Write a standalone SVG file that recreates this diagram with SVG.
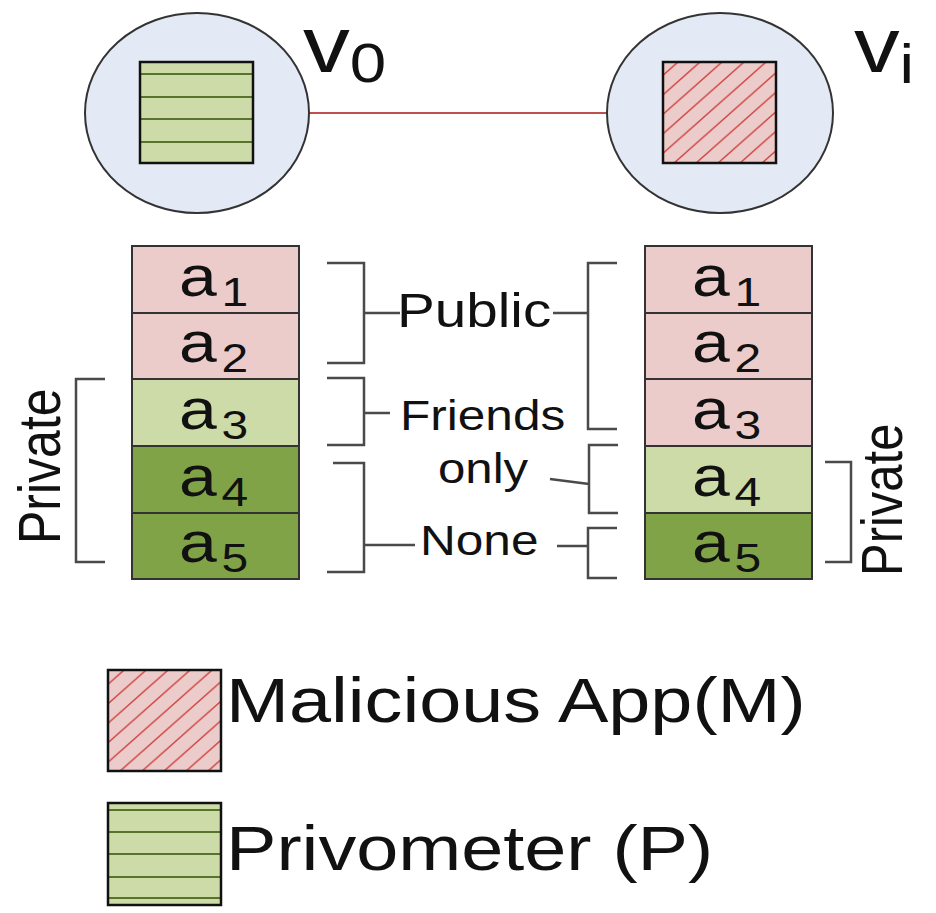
<svg xmlns="http://www.w3.org/2000/svg" width="936" height="913" viewBox="0 0 936 913">
<defs>
<style>
.t{font-family:"Liberation Sans",Arial,sans-serif;fill:#111}
.node{fill:#e4eaf5;stroke:#333;stroke-width:2}
.sq{stroke:#111;stroke-width:2.5}
.gl{stroke:#56752a;stroke-width:2}
.pink{fill:#eccccb;stroke:#333;stroke-width:2}
.lg{fill:#ccdba8;stroke:#333;stroke-width:2}
.dg{fill:#80a348;stroke:#333;stroke-width:2}
.br{fill:none;stroke:#4a4a4a;stroke-width:2.5}
</style>
<pattern id="hatch" patternUnits="userSpaceOnUse" width="22" height="19.5">
<rect width="22" height="19.5" fill="#eccccb"/>
<path d="M0,19.5 L22,0 M-6,5.3 L6,-5.3 M16,24.8 L28,14.2" stroke="#d04a44" stroke-width="1.5"/>
</pattern>
</defs>
<rect width="936" height="913" fill="#fff"/>

<g id="connectors">
<line x1="309" y1="113" x2="607" y2="113" stroke="#c0504d" stroke-width="2"/>
</g>

<g id="node-v0">
<ellipse class="node" cx="197" cy="113" rx="112" ry="100"/>
<rect x="140" y="62" width="113" height="101" fill="#ccdba8"/>
<g class="gl"><line x1="140" y1="74" x2="253" y2="74"/><line x1="140" y1="97" x2="253" y2="97"/><line x1="140" y1="119" x2="253" y2="119"/><line x1="140" y1="142" x2="253" y2="142"/></g>
<rect class="sq" x="140" y="62" width="113" height="101" fill="none"/>
<text class="t" font-size="80" transform="translate(303 72) scale(1.17 1)">v<tspan font-size="56" dy="10">0</tspan></text>
</g>

<g id="node-vi">
<ellipse class="node" cx="720" cy="113" rx="113" ry="100"/>
<rect class="sq" x="663" y="62" width="113" height="101" fill="url(#hatch)"/>
<text class="t" font-size="78" transform="translate(854 72) scale(1.17 1)">v<tspan font-size="56" dy="11">i</tspan></text>
</g>

<g id="stack-left">
<rect class="pink" x="132" y="246" width="167" height="67"/>
<rect class="pink" x="132" y="313" width="167" height="66"/>
<rect class="lg" x="132" y="379" width="167" height="67"/>
<rect class="dg" x="132" y="446" width="167" height="67"/>
<rect class="dg" x="132" y="513" width="167" height="66"/>
<text class="t" font-size="58" transform="translate(179 296) scale(1.17 1)">a<tspan font-size="41" dx="4" dy="10">1</tspan></text>
<text class="t" font-size="58" transform="translate(179 362) scale(1.17 1)">a<tspan font-size="41" dx="4" dy="10">2</tspan></text>
<text class="t" font-size="58" transform="translate(179 429) scale(1.17 1)">a<tspan font-size="41" dx="4" dy="10">3</tspan></text>
<text class="t" font-size="58" transform="translate(179 496) scale(1.17 1)">a<tspan font-size="41" dx="4" dy="10">4</tspan></text>
<text class="t" font-size="58" transform="translate(179 562) scale(1.17 1)">a<tspan font-size="41" dx="4" dy="10">5</tspan></text>
</g>

<g id="stack-right">
<rect class="pink" x="645" y="246" width="167" height="67"/>
<rect class="pink" x="645" y="313" width="167" height="66"/>
<rect class="pink" x="645" y="379" width="167" height="67"/>
<rect class="lg" x="645" y="446" width="167" height="67"/>
<rect class="dg" x="645" y="513" width="167" height="66"/>
<text class="t" font-size="58" transform="translate(692 296) scale(1.17 1)">a<tspan font-size="41" dx="4" dy="10">1</tspan></text>
<text class="t" font-size="58" transform="translate(692 362) scale(1.17 1)">a<tspan font-size="41" dx="4" dy="10">2</tspan></text>
<text class="t" font-size="58" transform="translate(692 429) scale(1.17 1)">a<tspan font-size="41" dx="4" dy="10">3</tspan></text>
<text class="t" font-size="58" transform="translate(692 496) scale(1.17 1)">a<tspan font-size="41" dx="4" dy="10">4</tspan></text>
<text class="t" font-size="58" transform="translate(692 562) scale(1.17 1)">a<tspan font-size="41" dx="4" dy="10">5</tspan></text>
</g>

<g id="brackets">
<path class="br" d="M327,263 H364 V363 H327 M364,313 H400"/>
<path class="br" d="M327,378 H364 V445 H327 M364,413 H390"/>
<path class="br" d="M333,463 H364 V572 H327 M364,545 H415"/>
<path class="br" d="M617,263 H588 V429 H617 M553,313 H588"/>
<path class="br" d="M618,445 H589 V513 H618 M550,479 L589,484"/>
<path class="br" d="M617,528 H588 V578 H617 M557,546 H588"/>
<path class="br" d="M105,379 H76 V562 H105"/>
<path class="br" d="M825,462 H851 V562 H825"/>
</g>

<g id="labels">
<text class="t" font-size="48" transform="translate(397 327) scale(1.18 1)">Public</text>
<text class="t" font-size="42" transform="translate(400 430) scale(1.18 1)">Friends</text>
<text class="t" font-size="42" transform="translate(438 483) scale(1.17 1)">only</text>
<text class="t" font-size="42" transform="translate(420 555) scale(1.18 1)">None</text>
<text class="t" font-size="50" transform="translate(60 544) scale(1.17 1) rotate(-90)">Private</text>
<text class="t" font-size="49" transform="translate(902 576) scale(1.17 1) rotate(-90)">Private</text>
</g>

<g id="legend-m">
<rect class="sq" x="108" y="670" width="113" height="101" fill="url(#hatch)"/>
<text class="t" font-size="63" transform="translate(226 722) scale(1.2 1)">Malicious App(M)</text>
</g>

<g id="legend-p">
<rect x="108" y="803" width="113" height="102" fill="#ccdba8"/>
<g class="gl"><line x1="108" y1="810" x2="221" y2="810"/><line x1="108" y1="832" x2="221" y2="832"/><line x1="108" y1="854" x2="221" y2="854"/><line x1="108" y1="877" x2="221" y2="877"/><line x1="108" y1="898" x2="221" y2="898"/></g>
<rect class="sq" x="108" y="803" width="113" height="102" fill="none"/>
<text class="t" font-size="63" transform="translate(226 870) scale(1.2 1)">Privometer (P)</text>
</g>
</svg>
